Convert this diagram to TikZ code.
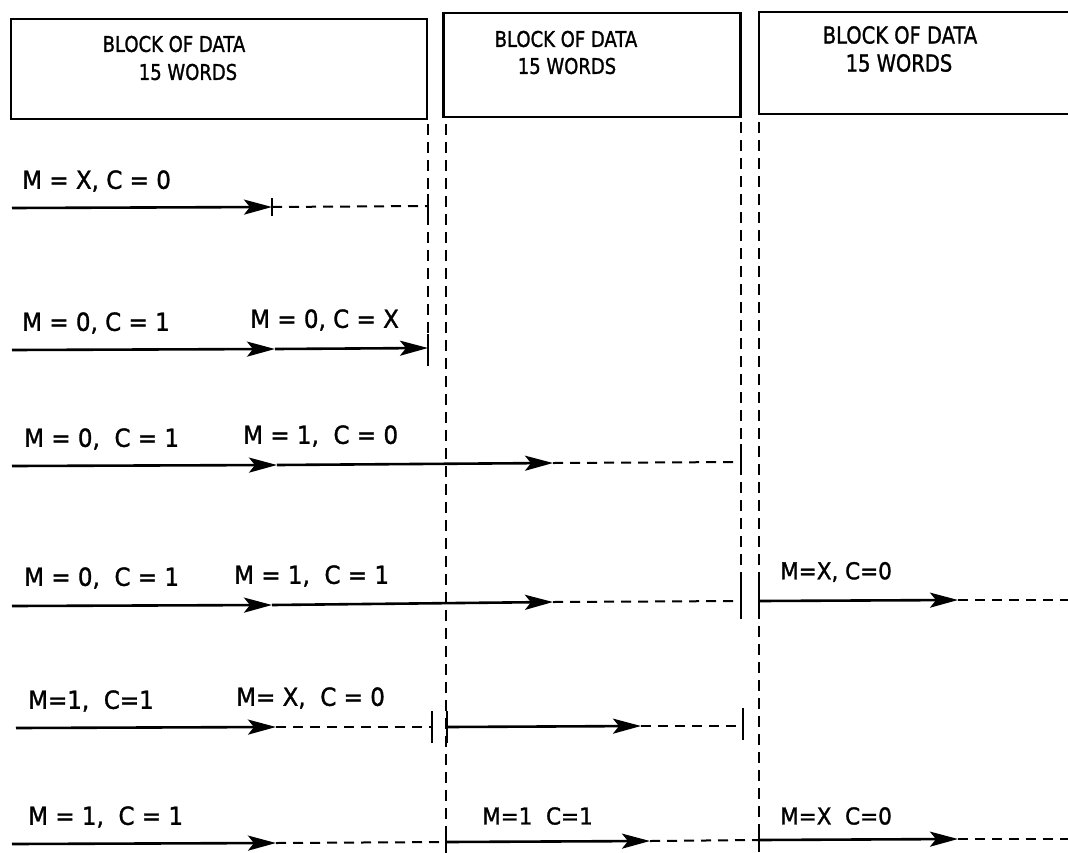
\documentclass[tikz,border=0pt]{standalone}
\usepackage{fontspec}
\usepackage{graphicx}
\setmainfont{DejaVu Sans}
\newfontfamily\hand{DejaVu Sans}[FakeBold=1.4]
\newcommand\tallA[1]{\scalebox{1}[1.2]{#1}}
\newcommand\tallB[1]{\scalebox{1}[1.08]{#1}}
\usetikzlibrary{arrows.meta}
\tikzset{
  box/.style={draw, line width=2.2pt, inner sep=0pt},
  vdash/.style={line width=2.2pt, dash pattern=on 11pt off 7pt},
  hdash/.style={line width=2pt, dash pattern=on 10pt off 7pt},
  arr/.style={line width=2.6pt, -{Stealth[length=28pt,width=15pt,inset=6pt]}},
  tick/.style={line width=2.4pt},
  lbl/.style={font=\hand\fontsize{23}{23}\selectfont, anchor=west, inner sep=0pt},
  slbl/.style={font=\hand\fontsize{21.5}{21.5}\selectfont, anchor=west, inner sep=0pt},
  blk/.style={font=\hand\fontsize{18}{18}\selectfont, inner sep=0pt},
  blkb/.style={font=\hand\fontsize{19.5}{19.5}\selectfont, inner sep=0pt},
}
\begin{document}
\begin{tikzpicture}[x=1pt,y=-1pt]
\useasboundingbox (0,0) rectangle (1068,852);
% ---- blocks
\node[box, minimum width=416pt, minimum height=100pt] (b1) at (219,69) {};
\node[box, minimum width=297pt, minimum height=104pt] (b2) at (592,65) {};
\coordinate (b3tr) at (1068,12);
\coordinate (b3tl) at (759,12);
\coordinate (b3bl) at (759,114);
\coordinate (b3br) at (1068,114);
\draw[line width=2.2pt] (b3tr) -- (b3tl) -- (b3bl) -- (b3br);
\node[blk] (t1a) at (174,44) {\tallA{BLOCK OF DATA}};
\node[blk] (t1b) at (188,72) {\tallA{15 WORDS}};
\node[blk] (t2a) at (566,39) {\tallA{BLOCK OF DATA}};
\node[blk] (t2b) at (567,66) {\tallA{15 WORDS}};
\node[blkb] (t3a) at (900,35) {\tallA{BLOCK OF DATA}};
\node[blkb] (t3b) at (899,63) {\tallA{15 WORDS}};
% ---- vertical dashed lines
\coordinate (v1t) at (428,124); \coordinate (v1b) at (428,362);
\coordinate (v2t) at (446,124); \coordinate (v2b) at (446,852);
\coordinate (v3t) at (741,122); \coordinate (v3b) at (741,620);
\coordinate (v4t) at (759,122); \coordinate (v4b) at (759,852);
\draw[vdash] (v1t) -- (v1b);
\draw[vdash] (v2t) -- (v2b);
\draw[vdash] (v3t) -- (v3b);
\draw[vdash] (v4t) -- (v4b);
% ---- row 1
\node[lbl] (l1a) at (22,181) {\tallB{M = X, C = 0}};
\coordinate (r1s) at (12,208); \coordinate (r1m) at (272,207); \coordinate (r1e) at (428,206);
\draw[arr] (r1s) -- (r1m);
\draw[tick] ([yshift=-9pt]r1m) -- ([yshift=9pt]r1m);
\draw[hdash] (r1m) -- (r1e);
\draw[tick] ([yshift=-12pt]r1e) -- ([yshift=12pt]r1e);
% ---- row 2
\node[lbl] (l2a) at (22,323) {\tallB{M = 0, C = 1}};
\node[lbl] (l2b) at (250,320) {\tallB{M = 0, C = X}};
\coordinate (r2s) at (12,350); \coordinate (r2m) at (275,349); \coordinate (r2e) at (428,348);
\draw[arr] (r2s) -- (r2m);
\draw[arr] (r2m) -- (r2e);
\draw[tick] ([yshift=-18pt]r2e) -- ([yshift=14pt]r2e);
% ---- row 3
\node[lbl] (l3a) at (24,439) {\tallB{M = 0, \ C = 1}};
\node[lbl] (l3b) at (243,436) {\tallB{M = 1, \ C = 0}};
\coordinate (r3s) at (12,466); \coordinate (r3m) at (277,465);
\coordinate (r3n) at (553,463); \coordinate (r3e) at (741,462);
\draw[arr] (r3s) -- (r3m);
\draw[arr] (r3m) -- (r3n);
\draw[hdash] (r3n) -- (r3e);
\draw[tick] ([yshift=-13pt]r3e) -- ([yshift=18pt]r3e);
% ---- row 4
\node[lbl] (l4a) at (24,578) {\tallB{M = 0, \ C = 1}};
\node[lbl] (l4b) at (234,576) {\tallB{M = 1, \ C = 1}};
\node[slbl] (l4c) at (780,572) {\tallB{M=X, C=0}};
\coordinate (r4s) at (12,606); \coordinate (r4m) at (272,605);
\coordinate (r4n) at (553,602); \coordinate (r4e) at (741,601);
\coordinate (r4f) at (759,601); \coordinate (r4g) at (958,600); \coordinate (r4h) at (1068,600);
\draw[arr] (r4s) -- (r4m);
\draw[arr] (r4m) -- (r4n);
\draw[hdash] (r4n) -- (r4e);
\draw[tick] ([yshift=-14pt]r4e) -- ([yshift=18pt]r4e);
\draw[tick] ([yshift=-14pt]r4f) -- ([yshift=20pt]r4f);
\draw[arr] (r4f) -- (r4g);
\draw[hdash] (r4g) -- (r4h);
% ---- row 5
\node[lbl] (l5a) at (28,701) {\tallB{M=1, \ C=1}};
\node[lbl] (l5b) at (236,698) {\tallB{M= X, \ C = 0}};
\coordinate (r5s) at (16,728); \coordinate (r5m) at (276,727); \coordinate (r5e) at (432,727);
\coordinate (r5f) at (447,727); \coordinate (r5g) at (641,726); \coordinate (r5h) at (743,726);
\draw[arr] (r5s) -- (r5m);
\draw[hdash] (r5m) -- (r5e);
\draw[tick] ([yshift=-16pt]r5e) -- ([yshift=16pt]r5e);
\draw[tick] ([yshift=-16pt]r5f) -- ([yshift=16pt]r5f);
\draw[arr] (r5f) -- (r5g);
\draw[hdash] (r5g) -- (r5h);
\draw[tick] ([yshift=-14pt]r5h) -- ([yshift=18pt]r5h);
% ---- row 6
\node[lbl] (l6a) at (28,817) {\tallB{M = 1, \ C = 1}};
\node[slbl] (l6b) at (482,816) {\tallB{M=1 \ C=1}};
\node[slbl] (l6c) at (780,816) {\tallB{M=X \ C=0}};
\coordinate (r6s) at (12,844); \coordinate (r6m) at (276,843); \coordinate (r6e) at (446,842);
\coordinate (r6f) at (650,841); \coordinate (r6g) at (759,840);
\coordinate (r6h) at (958,839); \coordinate (r6i) at (1068,839);
\draw[arr] (r6s) -- (r6m);
\draw[hdash] (r6m) -- (r6e);
\draw[tick] ([yshift=-12pt]r6e) -- ([yshift=10pt]r6e);
\draw[arr] (r6e) -- (r6f);
\draw[hdash] (r6f) -- (r6g);
\draw[tick] ([yshift=-12pt]r6g) -- ([yshift=12pt]r6g);
\draw[arr] (r6g) -- (r6h);
\draw[hdash] (r6h) -- (r6i);
\end{tikzpicture}
\end{document}
